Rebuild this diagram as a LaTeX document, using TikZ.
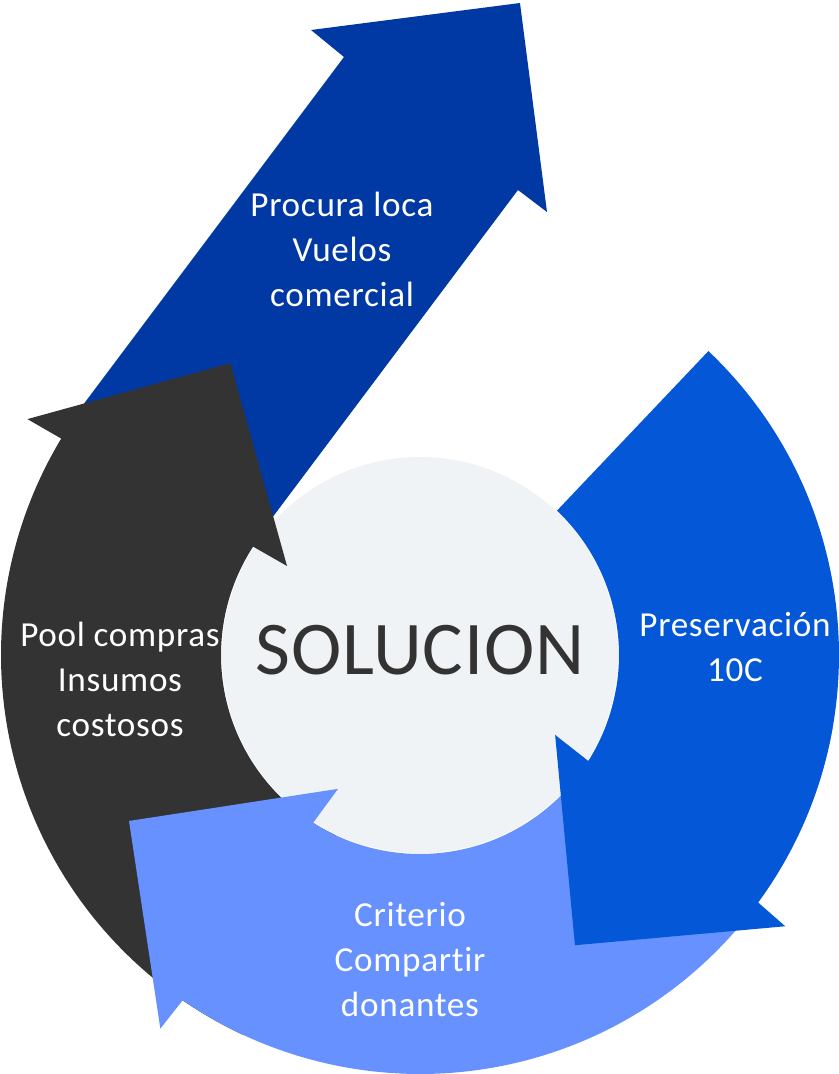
\documentclass[tikz,border=0pt]{standalone}
\usepackage{fontspec}
\setmainfont{Carlito}
\newfontfamily\labelfont{Carlito}[LetterSpace=2,Ligatures=NoCommon]
\newfontfamily\solfont{Carlito}[LetterSpace=1]
\usetikzlibrary{positioning}

\definecolor{procblue}{RGB}{0,57,163}
\definecolor{presblue}{RGB}{4,87,214}
\definecolor{critblue}{RGB}{102,145,255}
\definecolor{poolgrey}{RGB}{51,51,51}
\definecolor{solgrey}{RGB}{240,243,245}

\begin{document}
\begin{tikzpicture}[x=0.025cm,y=0.025cm,
	label/.style={text=white,align=center,font=\labelfont\fontsize{25}{32}\selectfont}]

\useasboundingbox (-420,-419) rectangle (418,655);

% straight arrow, behind everything
\fill [procblue] (-340,246) -- (-76,598) -- (-109,625) -- (100,652)
	-- (127,443) -- (98,465) -- (-214,49) -- cycle;

% centre
\fill [solgrey] (0,0) circle (198);

% curved arrows around the centre
\fill [poolgrey] (245:199) -- (245:419) arc [start angle=245, end angle=148.9, radius=419]
	-- (149.0:458) -- (123.0:348) -- (146.2:160) -- (147.0:199)
	arc [start angle=147.0, end angle=245, radius=199] -- cycle;

\fill [critblue] (-10:199) -- (-10:419) arc [start angle=-10, end angle=-124.5, radius=419]
	-- (-124.8:455) -- (-150.3:335) -- (-121.5:157) -- (-122.5:199)
	arc [start angle=-122.5, end angle=-10, radius=199] -- cycle;

\fill [presblue] (46.5:199) -- (46.5:419) arc [start angle=46.5, end angle=-36.2, radius=419]
	-- (-36.6:455) -- (-61.9:329) -- (-30.6:157) -- (-32.2:199)
	arc [start angle=-32.2, end angle=46.5, radius=199] -- cycle;

%%%%%%%%%%%%%%%%%%%%%%%%%%%%%%%%%%%%%%%%%%%%%%%%%%%%%%%%%%%%%%%%

\node [text=poolgrey,font=\solfont\fontsize{54}{60}\selectfont] (sol) at (0,4.5) {SOLUCION};

\node [label] (proc) at (-78,406) {Procura loca\\Vuelos\\comercial};
\node [label] (pres) at (315,8) {Preservación\\10C};
\node [label] (pool) at (-300,-24) {Pool compras\\Insumos\\costosos};
\node [label] (crit) at (-10,-305) {Criterio\\Compartir\\donantes};

\end{tikzpicture}
\end{document}
